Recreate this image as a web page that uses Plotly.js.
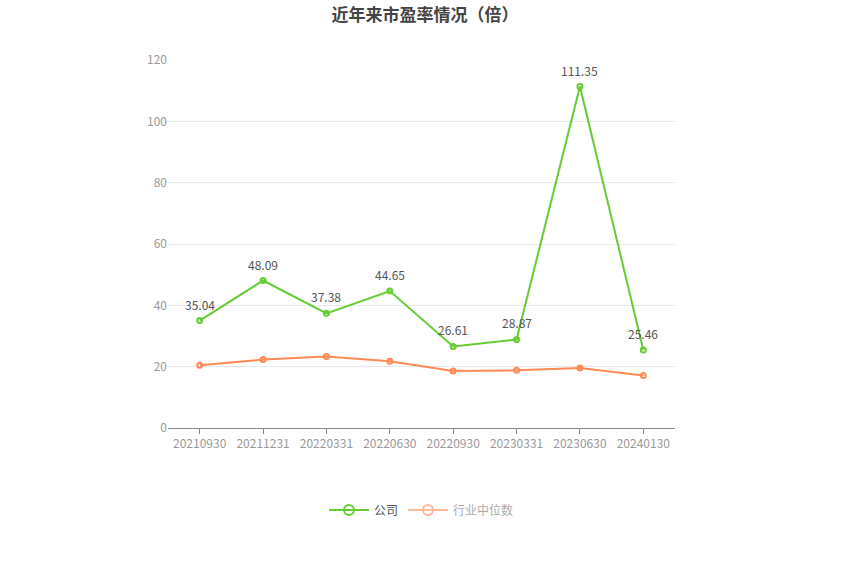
<!DOCTYPE html>
<html><head><meta charset="utf-8">
<script src="https://cdn.plot.ly/plotly-3.0.1.min.js"></script>
<style>html,body{margin:0;padding:0;background:#fff}#c{width:850px;height:574px}</style>
</head><body><div id="c"></div>
<script>
const categories = ['20210930','20211231','20220331','20220630','20220930','20230331','20230630','20240130'];
const companyPE = [35.04, 48.09, 37.38, 44.65, 26.61, 28.87, 111.35, 25.46];
const industryMedianPE = [20.5, 22.3, 23.3, 21.8, 18.6, 18.8, 19.6, 17.1];
const yTicks = [0, 20, 40, 60, 80, 100, 120];

const green = '#66cc33', orange = '#ff8a55';
const traces = [
  {x: categories, y: companyPE, name: '公司', type: 'scatter', mode: 'lines+markers',
   line: {color: green, width: 2}, marker: {symbol: 'circle-open', size: 5, color: green, line: {width: 2}},
   showlegend: false, cliponaxis: false},
  {x: categories, y: industryMedianPE, name: '行业中位数', type: 'scatter', mode: 'lines+markers',
   line: {color: orange, width: 2}, marker: {symbol: 'circle-open', size: 5, color: orange, line: {width: 2}},
   showlegend: false},
  {x: [categories[0]], y: [null], name: '公司', type: 'scatter', mode: 'lines+markers',
   line: {color: green, width: 2}, marker: {symbol: 'circle-open', size: 10, color: green, line: {width: 2}}},
  {x: [categories[0]], y: [null], name: '<span style="color:#aaa">行业中位数</span>', type: 'scatter', mode: 'lines+markers',
   line: {color: '#ffb999', width: 2}, marker: {symbol: 'circle-open', size: 10, color: '#ffb999', line: {width: 2}}}
];
const annotations = companyPE.map((v, i) => ({
  xref: 'x', yref: 'y', x: i, y: v, text: v.toFixed(2), showarrow: false,
  yanchor: 'bottom', yshift: 6, font: {family: 'Noto Sans CJK SC, sans-serif', size: 12, color: '#555'}
}));
const layout = {
  width: 850, height: 574,
  margin: {l: 168, r: 175, t: 60, b: 146},
  paper_bgcolor: '#fff', plot_bgcolor: '#fff',
  font: {family: 'Noto Sans CJK SC, sans-serif', color: '#999', size: 12},
  title: {text: '近年来市盈率情况（倍）', x: 0.5, xanchor: 'center', y: 0.985, yanchor: 'top',
          font: {size: 17, color: '#444', family: 'Noto Sans CJK SC, sans-serif', weight: 'bold'}},
  xaxis: {type: 'category', range: [-0.5, 7.5], showgrid: false, showline: true, linecolor: '#888', linewidth: 1,
          ticks: 'outside', ticklen: 5, tickcolor: '#888', tickfont: {size: 12, color: '#999'}, zeroline: false, fixedrange: true},
  yaxis: {range: [0, 120], tickvals: yTicks, showgrid: true, gridcolor: '#e8e8ee', gridwidth: 1, zeroline: false,
          showline: false, ticks: '', ticklen: 0, tickfont: {size: 12, color: '#999'}, fixedrange: true},
  annotations: annotations,
  showlegend: true,
  legend: {orientation: 'h', x: 0.5, xanchor: 'center', y: -0.223, yanchor: 'middle',
           font: {size: 12, color: '#555'}, itemwidth: 40, traceorder: 'normal'}
};
Plotly.newPlot('c', traces, layout, {displayModeBar: false, staticPlot: true});
</script></body></html>
